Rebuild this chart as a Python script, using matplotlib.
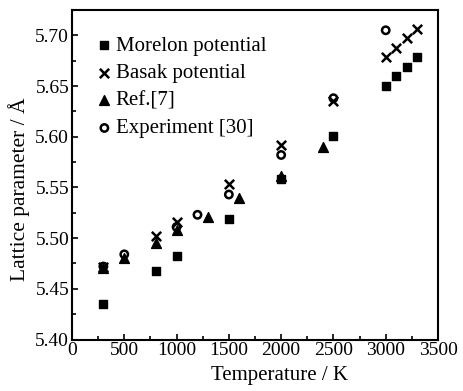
import matplotlib
matplotlib.use("Agg")
import matplotlib.pyplot as plt
from matplotlib.ticker import MultipleLocator, FormatStrFormatter

plt.rcParams['font.family'] = ['Liberation Serif', 'DejaVu Serif']
plt.rcParams['mathtext.fontset'] = 'stix'

morelon_T = [300, 800, 1000, 1500, 2000, 2500, 3000, 3100, 3200, 3300]
morelon_a = [5.435, 5.468, 5.482, 5.519, 5.558, 5.601, 5.650, 5.660, 5.669, 5.679]

basak_T = [300, 800, 1000, 1500, 2000, 2500, 3000, 3100, 3200, 3300]
basak_a = [5.472, 5.502, 5.516, 5.553, 5.592, 5.635, 5.679, 5.688, 5.697, 5.706]

ref7_T = [300, 500, 800, 1000, 1300, 1600, 2000, 2400]
ref7_a = [5.471, 5.480, 5.495, 5.508, 5.521, 5.540, 5.561, 5.590]

exp_T = [300, 500, 1000, 1200, 1500, 2000, 2500, 3000]
exp_a = [5.472, 5.484, 5.511, 5.523, 5.543, 5.582, 5.638, 5.705]

fig = plt.figure(figsize=(4.64, 3.91), dpi=100)
ax = fig.add_axes([72/464, 1 - 339.5/391, (438-72)/464, (339.5-10)/391])

ax.scatter(morelon_T, morelon_a, marker='s', s=38, c='black', label='Morelon potential', zorder=3)
ax.scatter(basak_T, basak_a, marker='x', s=45, c='black', linewidths=1.8, label='Basak potential', zorder=3)
ax.scatter(ref7_T, ref7_a, marker='^', s=50, c='black', label='Ref.[7]', zorder=3)
ax.scatter(exp_T, exp_a, marker='o', s=28, facecolors='none', edgecolors='black', linewidths=1.8,
           label='Experiment [30]', zorder=4)

ax.set_xlim(0, 3500)
ax.set_ylim(5.40, 5.725)
ax.xaxis.set_major_locator(MultipleLocator(500))
ax.xaxis.set_minor_locator(MultipleLocator(250))
ax.yaxis.set_major_locator(MultipleLocator(0.05))
ax.yaxis.set_minor_locator(MultipleLocator(0.025))
ax.yaxis.set_major_formatter(FormatStrFormatter('%.2f'))
ax.tick_params(which='both', direction='in', top=False, right=False, labelsize=14, width=1.2, pad=2)
ax.tick_params(which='major', length=4)
ax.tick_params(which='minor', length=3)
for sp in ax.spines.values():
    sp.set_linewidth(1.5)

ax.set_xlabel('Temperature / K', fontsize=15)
ax.set_ylabel('Lattice parameter / Å', fontsize=15.5)
ax.xaxis.set_label_coords(0.566, -0.08)
ax.yaxis.set_label_coords(-0.115, 0.457)

leg = ax.legend(loc='upper left', frameon=False, fontsize=15, handletextpad=0.05,
                labelspacing=0.38, borderaxespad=0.0, borderpad=0.0, handlelength=1.0,
                bbox_to_anchor=(0.06, 0.92))

fig.savefig('out.png', dpi=100)
